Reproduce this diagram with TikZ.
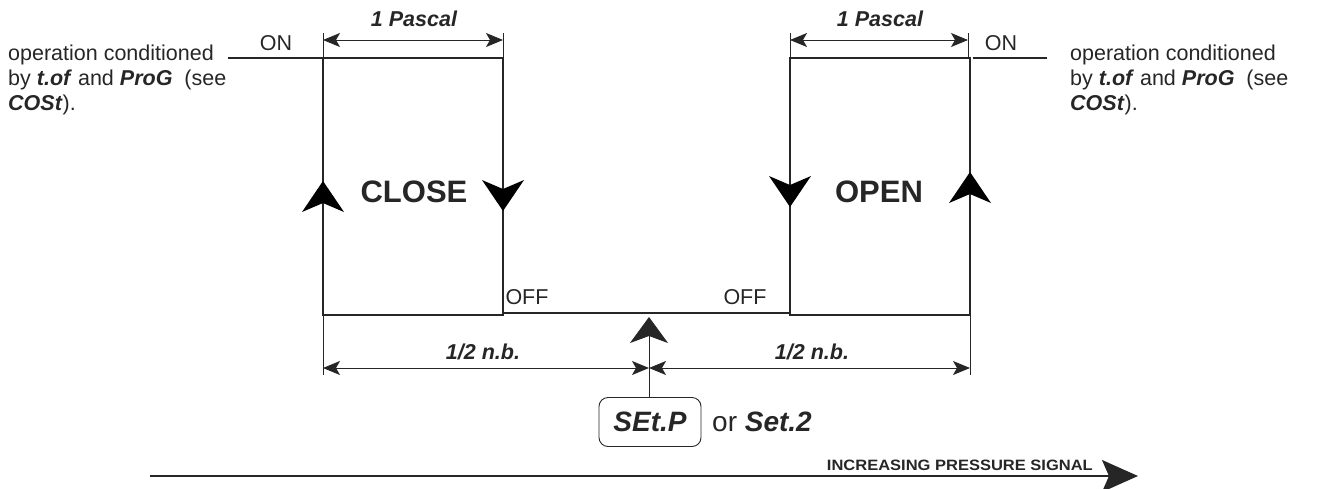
\documentclass[tikz,border=0pt]{standalone}
\usepackage{fontspec}
\setmainfont{Liberation Sans}
\usetikzlibrary{arrows.meta}
\newcommand{\bi}[1]{\textbf{\textit{#1}}}
\begin{document}
\begin{tikzpicture}[x=1pt,y=-1pt,
  box/.style={line width=2.6pt,line join=miter,color=black!85},
  dim/.style={line width=0.9pt,color=black!85},
  bigtip/.pic={\fill[black] (0,0) -- (-21,31) -- (0,22) -- (21,31) -- cycle;},
  smalltip/.tip={Stealth[length=17pt,width=14pt,inset=4pt]},
  dimarr/.style={dim,smalltip-smalltip},
  lbl/.style={inner sep=0pt,font=\fontsize{21.5}{24.7}\selectfont,text=black!85},
  blbl/.style={inner sep=0pt,font=\fontsize{31}{34}\selectfont\bfseries,text=black!85},
  dlbl/.style={inner sep=0pt,font=\fontsize{21.5}{24}\selectfont\bfseries\itshape,text=black!85}]
\useasboundingbox (0,0) rectangle (1320,488);
% corner coordinates
\coordinate (onL) at (228,58);
\coordinate (A) at (323,58);
\coordinate (B) at (503,58);
\coordinate (Bb) at (503,315);
\coordinate (Ab) at (323,315);
\coordinate (offL) at (503,313);
\coordinate (offR) at (790,313);
\coordinate (E) at (790,58);
\coordinate (F) at (970,58);
\coordinate (Fb) at (970,315);
\coordinate (Eb) at (790,315);
\coordinate (onR0) at (973,58);
\coordinate (onR) at (1047,58);
% hysteresis boxes
\draw[box] (onL) -- (A);
\draw[box] (A) -- (B) -- (Bb) -- (Ab) -- cycle;
\draw[box] (offL) -- (offR);
\draw[box] (E) -- (F) -- (Fb) -- (Eb) -- cycle;
\draw[box] (onR0) -- (onR);
% big direction arrowheads
\pic at (323,181) {bigtip};
\pic[rotate=180] at (503,211) {bigtip};
\pic[rotate=180] at (790,207) {bigtip};
\pic at (970,172) {bigtip};
% top dimensions
\coordinate (tA) at (323,33); \coordinate (tB) at (503,33);
\coordinate (tE) at (790,33); \coordinate (tF) at (968,33);
\coordinate (tFb) at (968,58);
\draw[dim] (tA) -- (A); \draw[dim] (tB) -- (B);
\draw[dim] (tE) -- (E); \draw[dim] (tF) -- (tFb);
\coordinate (dA) at (323,40); \coordinate (dB) at (503,40);
\coordinate (dE) at (790,40); \coordinate (dF) at (968,40);
\draw[dimarr] (dA) -- (dB);
\draw[dimarr] (dE) -- (dF);
\node[dlbl] (p1) at (414,19) {1 Pascal};
\node[dlbl] (p2) at (880,19) {1 Pascal};
% bottom dimensions
\coordinate (bA) at (323,375); \coordinate (bF) at (970,375);
\draw[dim] (Ab) -- (bA); \draw[dim] (Fb) -- (bF);
\coordinate (mA) at (323,368); \coordinate (mC) at (649,368); \coordinate (mF) at (970,368);
\draw[dimarr] (mA) -- (mC);
\draw[dimarr] (mC) -- (mF);
\node[dlbl] (h1) at (483,352) {1/2 n.b.};
\node[dlbl] (h2) at (812,352) {1/2 n.b.};
% setpoint
\node[draw=black!85,line width=0.9pt,rounded corners=9pt,minimum width=102pt,minimum height=49pt,inner sep=0pt,
  font=\fontsize{28}{30}\selectfont\bfseries\itshape,text=black!85] (sp) at (650,422) {SEt.P};
\node[anchor=west,inner sep=0pt,font=\fontsize{28}{30}\selectfont,text=black!85] (or) at (712,422) {or \bi{Set.2}};
\coordinate (tip) at (649,317);
\draw[dim,-{Stealth[length=26pt,width=38pt,inset=7pt]}] (sp.north -| tip) -- (tip);
% labels
\node[blbl] (close) at (414,192) {CLOSE};
\node[blbl] (open) at (879,192) {OPEN};
\node[lbl,anchor=base] (onl) at (276,50) {ON};
\node[lbl,anchor=base] (onr) at (1001,50) {ON};
\node[lbl] (offl) at (527,297) {OFF};
\node[lbl] (offr) at (745,297) {OFF};
\node[lbl,anchor=north west,align=left] (txtL) at (8,45) {operation conditioned\\by \bi{t.of} and \bi{ProG}\ \ (see\\\bi{COSt}).};
\node[lbl,anchor=north west,align=left] (txtR) at (1070,45) {operation conditioned\\by \bi{t.of} and \bi{ProG}\ \ (see\\\bi{COSt}).};
% axis
\coordinate (ax0) at (150,476);
\coordinate (ax1) at (1138,476);
\draw[line width=1.8pt,color=black!85,-{Stealth[length=36pt,width=32pt,inset=7pt]}] (ax0) -- (ax1);
\node[anchor=base east,inner sep=0pt,font=\fontsize{15}{17}\selectfont\bfseries\addfontfeature{FakeStretch=1.1},text=black!85] (axl) at (1093,470) {INCREASING PRESSURE SIGNAL};
\end{tikzpicture}
\end{document}
